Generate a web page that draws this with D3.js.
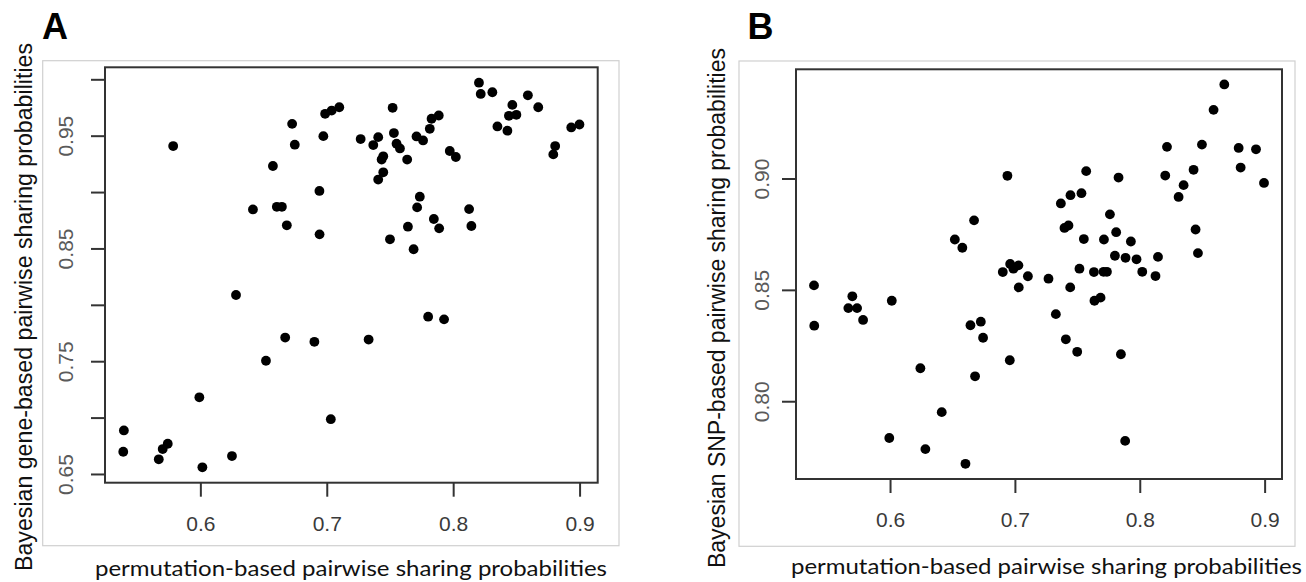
<!DOCTYPE html>
<html>
<head>
<meta charset="utf-8">
<script src="https://cdn.jsdelivr.net/npm/d3@7"></script>
<style>
  html, body { margin: 0; padding: 0; background: #fff; }
  svg { display: block; }
</style>
</head>
<body>
<svg id="chart" width="1306" height="582"></svg>
<script>
// ---------------- DATA ----------------
// Panel A: permutation-based (x) vs Bayesian gene-based (y)
const xA = [0.5785,0.6726,0.6747,0.6574,0.6973,0.6942,0.6987,0.7039,0.7099,0.7268,
            0.7368,0.7407,0.7521,0.7531,0.7552,0.7579,0.7447,0.7434,0.7636,0.7447,
            0.7407,0.7736,0.7715,0.7710,0.7762,0.7815,0.7829,0.7886,0.7973,0.8021,
            0.8204,0.8218,0.8310,0.8468,0.8441,0.8500,0.8591,0.8673,0.8350,0.8429,
            0.8807,0.8792,0.8934,0.8999,0.6416,0.6605,0.6645,0.6684,0.6943,0.6282,
            0.6671,0.6902,0.6519,0.5992,0.8126,0.7847,0.7889,0.7642,0.8144,0.7500,
            0.7687,0.7802,0.7928,0.7331,0.5395,0.5390,0.5671,0.5702,0.5742,0.6250,
            0.6016,0.7032];
const yA = [0.9408,0.9605,0.9420,0.9231,0.9496,0.9010,0.9694,0.9723,0.9752,0.9470,
            0.9417,0.9487,0.9747,0.9523,0.9429,0.9387,0.9317,0.9288,0.9288,0.9175,
            0.9111,0.8959,0.8864,0.9493,0.9458,0.9561,0.9650,0.9679,0.9364,0.9311,
            0.9970,0.9870,0.9885,0.9773,0.9676,0.9685,0.9858,0.9752,0.9582,0.9544,
            0.9408,0.9334,0.9573,0.9599,0.8846,0.8869,0.8869,0.8705,0.8625,0.8087,
            0.7710,0.7672,0.7504,0.7180,0.8849,0.8761,0.8678,0.8693,0.8699,0.8581,
            0.8493,0.7895,0.7871,0.7692,0.6886,0.6697,0.6630,0.6721,0.6768,0.6659,
            0.6559,0.6986];

// Panel B: permutation-based (x) vs Bayesian SNP-based (y)
const xB = [0.5391,0.5393,0.5698,0.5666,0.5736,0.5784,0.6014,0.6243,0.5994,0.6283,
            0.6414,0.6604,0.6681,0.6644,0.6727,0.6745,0.6519,0.6579,0.6673,0.6940,
            0.6903,0.6962,0.6988,0.7028,0.7104,0.7031,0.6959,0.7269,0.7443,0.7328,
            0.7408,0.7499,0.7849,0.7883,0.7637,0.7686,0.7517,0.7633,0.7710,0.7737,
            0.7552,0.7713,0.7811,0.7761,0.7929,0.7801,0.7886,0.7974,0.8020,0.8146,
            0.8126,0.7397,0.7429,0.7368,0.7445,0.7533,0.7571,0.7830,0.8218,0.8204,
            0.8351,0.8311,0.8431,0.8498,0.8447,0.8466,0.8591,0.8677,0.8792,0.8808,
            0.8931,0.8995];
const yB = [0.8520,0.8339,0.8471,0.8418,0.8418,0.8365,0.8451,0.8148,0.7835,0.7785,
            0.7951,0.7719,0.8112,0.8341,0.8357,0.8285,0.8726,0.8689,0.8812,0.9012,
            0.8580,0.8616,0.8595,0.8610,0.8561,0.8511,0.8184,0.8550,0.8511,0.8391,
            0.8278,0.8222,0.8211,0.7822,0.8451,0.8465,0.8595,0.8580,0.8581,0.8581,
            0.8728,0.8726,0.8759,0.8839,0.8717,0.8653,0.8644,0.8637,0.8581,0.8648,
            0.8562,0.8778,0.8789,0.8888,0.8925,0.8934,0.9033,0.9004,0.9142,0.9013,
            0.8970,0.8917,0.9039,0.9152,0.8771,0.8665,0.9308,0.9422,0.9137,0.9049,
            0.9131,0.8980];

// Ticks and labels
const xTicks = [0.6, 0.7, 0.8, 0.9];
const xTickLabels = ["0.6", "0.7", "0.8", "0.9"];
const yTicksA = [0.65, 0.70, 0.75, 0.80, 0.85, 0.90, 0.95, 1.00];
const yTickLabelsA = ["0.65", "", "0.75", "", "0.85", "", "0.95", ""];
const yTicksB = [0.80, 0.85, 0.90];
const yTickLabelsB = ["0.80", "0.85", "0.90"];

const panelLetters = ["A", "B"];
const xTitles = ["permutation-based pairwise sharing probabilities",
                 "permutation-based pairwise sharing probabilities"];
const yTitles = ["Bayesian gene-based pairwise sharing probabilities",
                 "Bayesian SNP-based pairwise sharing probabilities"];

// ---------------- LAYOUT ----------------
const panels = [
  { x: xA, y: yA, yTicks: yTicksA, yLabels: yTickLabelsA,
    box: {l: 105, r: 597.7, t: 67.3, b: 482.7},
    frame: {l: 42.7, t: 60.7, r: 619, b: 545.7},
    letter: {x: 42, y: 39},
    xTitle: {x0: 95, x1: 607, y: 576},
    yTitle: {x: 32, cy: 307, len: 528},
    yLabOff: 32, xLabOff: 48 },
  { x: xB, y: yB, yTicks: yTicksB, yLabels: yTickLabelsB,
    box: {l: 796, r: 1282, t: 69.3, b: 479},
    frame: {l: 739, t: 61, r: 1295, b: 546.3},
    letter: {x: 747.5, y: 39},
    xTitle: {x0: 791, x1: 1302, y: 574},
    yTitle: {x: 725, cy: 308, len: 520},
    yLabOff: 27, xLabOff: 47.5 }
];

// R-style 4% axis extension
function rExtent(vals) {
  const [lo, hi] = d3.extent(vals);
  const d = (hi - lo) * 0.04;
  return [lo - d, hi + d];
}

const svg = d3.select("#chart");
const tickFont = "'Liberation Sans', Arial, Helvetica, sans-serif";

panels.forEach((p, i) => {
  const g = svg.append("g");

  // outer light frame
  g.append("rect")
    .attr("x", p.frame.l).attr("y", p.frame.t)
    .attr("width", p.frame.r - p.frame.l).attr("height", p.frame.b - p.frame.t)
    .attr("fill", "none").attr("stroke", "#d0d0d0").attr("stroke-width", 1.2);

  const x = d3.scaleLinear().domain(rExtent(p.x)).range([p.box.l, p.box.r]);
  const y = d3.scaleLinear().domain(rExtent(p.y)).range([p.box.b, p.box.t]);

  // points
  g.append("g").selectAll("circle")
    .data(d3.zip(p.x, p.y))
    .join("circle")
    .attr("cx", d => x(d[0]))
    .attr("cy", d => y(d[1]))
    .attr("r", 4.9)
    .attr("fill", "#000");

  // x axis
  const xAxis = d3.axisBottom(x)
    .tickValues(xTicks)
    .tickFormat((d, j) => xTickLabels[j])
    .tickSize(14).tickSizeOuter(0);
  const gx = g.append("g")
    .attr("transform", `translate(0,${p.box.b})`)
    .call(xAxis);
  gx.select(".domain").remove();
  gx.selectAll(".tick line").attr("stroke", "#333").attr("stroke-width", 2);
  gx.selectAll(".tick text")
    .attr("y", p.xLabOff).attr("dy", 0)
    .attr("fill", "#3a3a3a")
    .style("font-family", tickFont).style("font-size", "21px");

  // y axis
  const yAxis = d3.axisLeft(y)
    .tickValues(p.yTicks)
    .tickFormat((d, j) => p.yLabels[j])
    .tickSize(14).tickSizeOuter(0);
  const gy = g.append("g")
    .attr("transform", `translate(${p.box.l},0)`)
    .call(yAxis);
  gy.select(".domain").remove();
  gy.selectAll(".tick line").attr("stroke", "#333").attr("stroke-width", 2);
  gy.selectAll(".tick text")
    .attr("transform", "rotate(-90)")
    .attr("x", 0).attr("y", -p.yLabOff).attr("dy", 0)
    .attr("text-anchor", "middle")
    .attr("fill", "#5a5a5a")
    .style("font-family", tickFont).style("font-size", "21px");

  // plot box
  g.append("rect")
    .attr("x", p.box.l).attr("y", p.box.t)
    .attr("width", p.box.r - p.box.l).attr("height", p.box.b - p.box.t)
    .attr("fill", "none").attr("stroke", "#333").attr("stroke-width", 2);

  // panel letter
  g.append("text")
    .attr("x", p.letter.x).attr("y", p.letter.y)
    .attr("fill", "#000")
    .style("font-family", "'Liberation Sans', Arial, sans-serif")
    .style("font-weight", "bold").style("font-size", "36px")
    .text(panelLetters[i]);

  // x title
  g.append("text")
    .attr("x", p.xTitle.x0).attr("y", p.xTitle.y)
    .attr("textLength", p.xTitle.x1 - p.xTitle.x0)
    .attr("lengthAdjust", "spacingAndGlyphs")
    .attr("fill", "#111")
    .style("font-family", "Lato, 'Open Sans', sans-serif")
    .style("font-size", "22px")
    .text(xTitles[i]);

  // y title
  g.append("text")
    .attr("transform", `translate(${p.yTitle.x},${p.yTitle.cy}) rotate(-90)`)
    .attr("x", -p.yTitle.len / 2).attr("y", 0)
    .attr("textLength", p.yTitle.len)
    .attr("lengthAdjust", "spacingAndGlyphs")
    .attr("fill", "#111")
    .style("font-family", "'Liberation Sans', Arial, sans-serif")
    .style("font-size", "23.5px")
    .text(yTitles[i]);
});
</script>
</body>
</html>
